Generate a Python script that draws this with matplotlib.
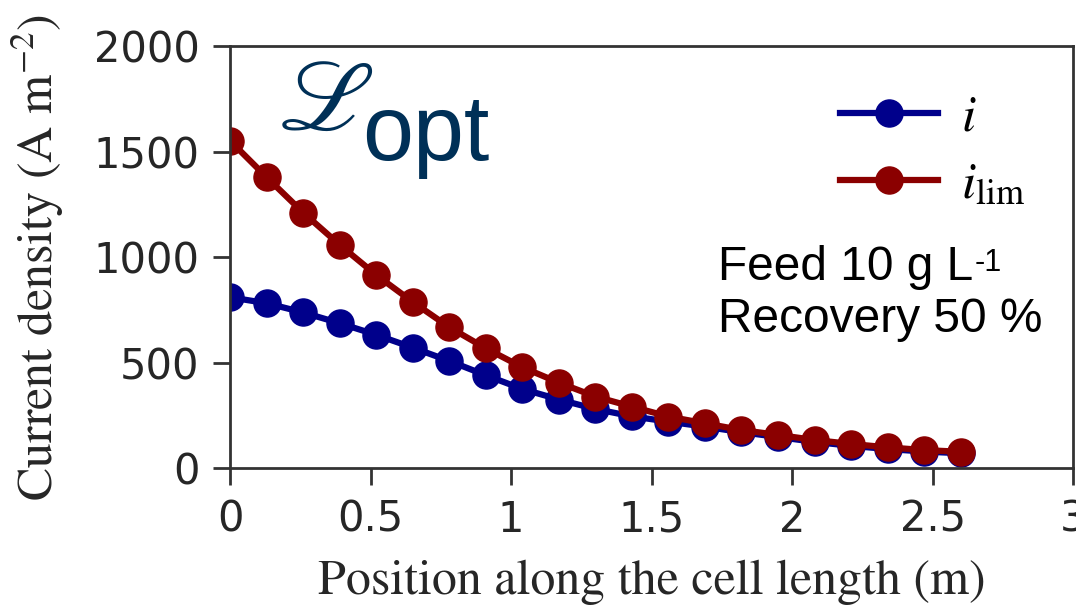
import matplotlib.pyplot as plt
from matplotlib.font_manager import FontProperties

# positions along the cell (m)
position = [0.0, 0.13, 0.26, 0.39, 0.52, 0.65, 0.78, 0.91, 1.04, 1.17, 1.30,
            1.43, 1.56, 1.69, 1.82, 1.95, 2.08, 2.21, 2.34, 2.47, 2.60]

# operating and limiting current density (A m-2)
i_op = [810, 782, 738, 687, 632, 571, 508, 440, 375, 325, 280,
        245, 220, 196, 170, 147, 124, 105, 90, 78, 70]
i_lim = [1553, 1380, 1212, 1059, 916, 788, 668, 568, 478, 405, 339,
         291, 244, 212, 180, 157, 133, 114, 98, 85, 77]

xticks = [0, 0.5, 1, 1.5, 2, 2.5, 3]
xticklabels = ["0", "0.5", "1", "1.5", "2", "2.5", "3"]
yticks = [0, 500, 1000, 1500, 2000]

plt.rcParams["mathtext.fontset"] = "stix"

fig = plt.figure(figsize=(10.76, 6.07), dpi=100)
ax = fig.add_axes([0.2138, 0.229, 0.7835, 0.6944])

ax.plot(position, i_op, "-o", color="#00008B", lw=4.5, ms=19.5, label="$i$")
ax.plot(position, i_lim, "-o", color="#8B0000", lw=4.5, ms=19.5,
        label=r"$i_{\mathrm{lim}}$")

ax.set_xlim(0, 3)
ax.set_ylim(0, 2000)
ax.set_xticks(xticks)
ax.set_xticklabels(xticklabels)
ax.set_yticks(yticks)

for sp in ax.spines.values():
    sp.set_color("#333333")
    sp.set_linewidth(2)
ax.tick_params(direction="out", length=12, width=2, color="#333333",
               labelsize=30, labelcolor="#262626", pad=10)

ax.set_ylabel("Current density (A m$^{-2}$)", family="STIXGeneral",
              fontsize=36, color="#262626")
ax.yaxis.set_label_coords(-0.195, 0.5)
ax.set_xlabel("Position along the cell length (m)", family="STIXGeneral",
              fontsize=36, color="#262626")
ax.xaxis.set_label_coords(0.5, -0.218)

leg_font = FontProperties(family="STIXGeneral", size=37, math_fontfamily="stix")
ax.legend(loc="upper left", bbox_to_anchor=(0.724, 0.885), frameon=False,
          borderpad=0, borderaxespad=0, handlelength=1.9, handletextpad=0.45,
          labelspacing=0.4, prop=leg_font)

# model tag
ax.text(0.057, 0.802, r"$\mathscr{L}$", transform=ax.transAxes, fontsize=72,
        color="#003057", math_fontfamily="stix", va="baseline")
ax.text(0.157, 0.731, "opt", transform=ax.transAxes, fontsize=66,
        color="#003057", family="Liberation Sans", va="baseline")

# operating conditions
t1 = ax.text(0.579, 0.446, "Feed 10 g L", transform=ax.transAxes, fontsize=34.5,
             color="black", family="Liberation Sans", va="baseline")
ax.annotate("-1", xy=(1, 1), xycoords=t1, xytext=(1, -2),
            textcoords="offset points", fontsize=22, color="black",
            family="Liberation Sans", va="top", ha="left")
ax.text(0.579, 0.3227, "Recovery 50 %", transform=ax.transAxes, fontsize=34.5,
        color="black", family="Liberation Sans", va="baseline")

fig.savefig("out.png", dpi=100)
